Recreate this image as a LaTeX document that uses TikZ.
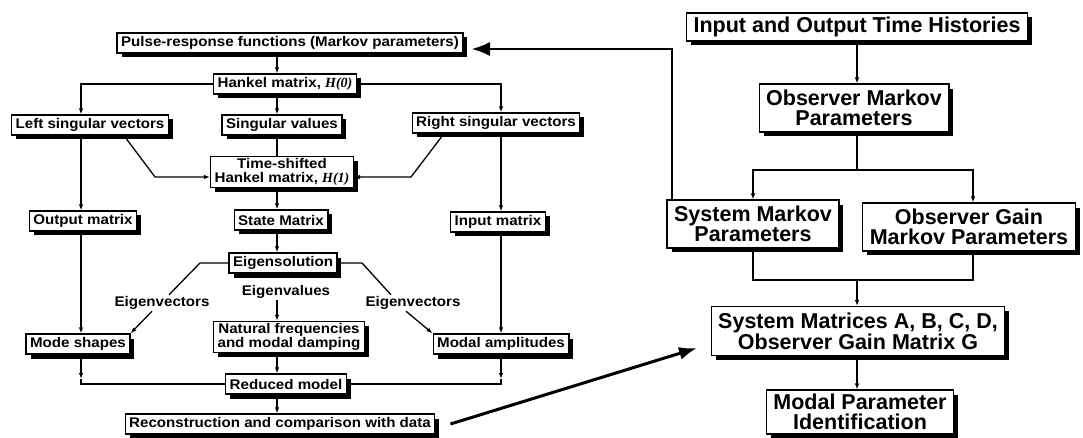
\documentclass[tikz,border=0pt]{standalone}
\usepackage{fontspec}
\setmainfont{Liberation Sans}
\newfontfamily\lfont[FakeStretch=1.08]{Liberation Sans}
\newfontfamily\hfont{Liberation Serif}
\usetikzlibrary{arrows.meta}

\tikzset{
  shade box/.style={preaction={fill=black,transform canvas={shift={(4.5pt,-4.5pt)}}}},
  lbox/.style={draw,fill=white,line width=1.3pt,align=center,shade box,
    font=\lfont\fontsize{14}{14}\selectfont\bfseries,
    inner xsep=4pt,inner ysep=2pt,minimum height=20pt},
  rbox/.style={draw,fill=white,line width=1.3pt,align=center,shade box,
    font=\fontsize{21.5}{20}\selectfont\bfseries,
    inner xsep=7pt,inner ysep=6pt,minimum height=28pt},
  lbl/.style={font=\lfont\fontsize{14}{14}\selectfont\bfseries,inner sep=1pt}
}
\newcommand{\Hm}[1]{{\hfont\bfseries\itshape H(#1)}}

\begin{document}
\begin{tikzpicture}[x=1pt,y=-1pt,line width=1.3pt,>={Latex[length=6pt,width=4.5pt]}]
  \useasboundingbox (0,0) rectangle (1083,438);

  % column axes
  \coordinate (cl) at (81,0);
  \coordinate (cm) at (277,0);
  \coordinate (cr) at (501,0);
  \coordinate (cx) at (857,0);

  % left chart
  \begin{scope}[every node/.style={lbox}]
    \node (1)  at (290,43)  {Pulse-response functions (Markov parameters)};
    \node (2)  at (285,84)  {Hankel matrix, \Hm{0}};
    \node (3)  at (90,125)  {Left singular vectors};
    \node (4)  at (282,125) {Singular values};
    \node (5)  at (496,123) {Right singular vectors};
    \node (6)  at (282,172) {Time-shifted\\Hankel matrix, \Hm{1}};
    \node (7)  at (83,221)  {Output matrix};
    \node (8)  at (281,220) {State Matrix};
    \node (9)  at (498,222) {Input matrix};
    \node (10) at (283,263) {Eigensolution};
    \node (11) at (78,344)  {Mode shapes};
    \node (12) at (289,337) {Natural frequencies\\and modal damping};
    \node (13) at (501,344) {Modal amplitudes};
    \node (14) at (286,384) {Reduced model};
    \node (15) at (280,424) {Reconstruction and comparison with data};
  \end{scope}

  \node[lbl] (evl) at (162,303) {Eigenvectors};
  \node[lbl] (evm) at (286,292) {Eigenvalues};
  \node[lbl] (evr) at (413,303) {Eigenvectors};

  % right chart
  \begin{scope}[every node/.style={rbox}]
    \node[inner ysep=3pt] (16) at (857,27) {Input and Output Time Histories};
    \node (17) at (854,108) {Observer Markov\\Parameters};
    \node (18) at (753,224) {System Markov\\Parameters};
    \node (19) at (969,227) {Observer Gain\\Markov Parameters};
    \node (20) at (858,331) {System Matrices A, B, C, D,\\Observer Gain Matrix G};
    \node[inner ysep=4pt] (21) at (860,412) {Modal Parameter\\Identification};
  \end{scope}

  \coordinate (k1) at (155,177);
  \coordinate (k2) at (411,177);
  \coordinate (e1) at (200,263);
  \coordinate (e2) at (362,263);
  \coordinate (m1) at (81,379);
  \coordinate (m2) at (501,379);
  \coordinate (fb) at (672,49);
  \coordinate (fbt) at (472,49);
  \coordinate (bt) at (697,348);
  \coordinate (s1) at (857,170);
  \coordinate (s3) at (973,170);
  \coordinate (j1) at (857,280);

  % left connectors
  \draw[->] (1.south -| cm) -- (2.north -| cm);
  \draw[->] (2.west) -| (3.north -| cl);
  \draw[->] (2.east) -| (5.north -| cr);
  \draw[->] (2.south -| cm) -- (4.north -| cm);
  \draw (4.south -| cm) -- (6.north -| cm);
  \draw[->] ([xshift=34pt]3.south) -- (k1) -- (6.west |- k1);
  \draw[->] ([xshift=-52pt]5.south) -- (k2) -- (6.east |- k2);
  \draw[->] (3.south -| cl) -- (7.north -| cl);
  \draw[->] (5.south -| cr) -- (9.north -| cr);
  \draw[->] (6.south -| cm) -- (8.north -| cm);
  \draw[->] (8.south -| cm) -- (10.north -| cm);
  \draw[->] (7.south -| cl) -- (11.north -| cl);
  \draw[->] (9.south -| cr) -- (13.north -| cr);
  \draw (10.west) -- (e1) -- ([xshift=7pt]evl.north);
  \draw[->] ([xshift=-10pt]evl.south) -- (11.north east);
  \draw (10.east) -- (e2) -- ([xshift=-22pt]evr.north);
  \draw[->] ([xshift=-7pt]evr.south) -- (13.north west);
  \draw[->] (evm.south -| cm) -- (12.north -| cm);
  \draw[->] (11.south -| cl) -- (m1);
  \draw (m1) |- (14.west);
  \draw[->] (13.south -| cr) -- (m2);
  \draw (m2) |- (14.east);
  \draw[->] (12.south -| cm) -- (14.north -| cm);
  \draw[->] (14.south -| cm) -- (15.north -| cm);

  % links between the charts
  \draw[-{Latex[length=18pt,width=14pt]}] (18.north -| fb) -- (fb) -- (fbt);
  \draw[line width=3pt,-{Latex[length=18pt,width=13pt]}] ([xshift=15pt]15.east) -- (bt);

  % right connectors
  \draw[->] (16.south -| cx) -- (17.north -| cx);
  \draw (17.south -| cx) -- (s1);
  \draw[->] (s1) -| (18.north);
  \draw[->] (s1) -| (19.north -| s3);
  \draw (18.south) |- (j1);
  \draw (19.south -| s3) |- (j1);
  \draw[->] (j1) -- (20.north -| cx);
  \draw[->] (20.south -| cx) -- (21.north -| cx);
\end{tikzpicture}
\end{document}
